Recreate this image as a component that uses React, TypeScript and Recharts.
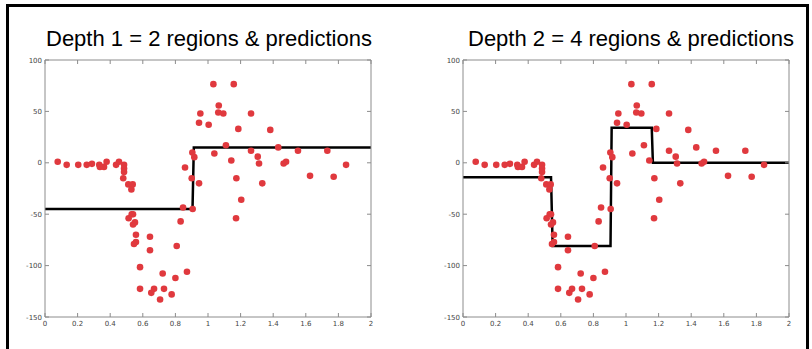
import { ComposedChart, Line, Scatter, XAxis, YAxis } from "recharts";

// training samples (same in both panels)
const sampleX = [
  0.078, 0.133, 0.204, 0.256, 0.288, 0.333, 0.337, 0.362, 0.378, 0.436,
  0.454, 0.485, 0.485, 0.485, 0.48, 0.511, 0.538, 0.53, 0.532, 0.54,
  0.513, 0.552, 0.54, 0.558, 0.558, 0.546, 0.644, 0.644, 0.583, 0.583,
  0.652, 0.669, 0.706, 0.73, 0.722, 0.777, 0.8, 0.808, 0.832, 0.847,
  0.871, 0.906, 0.859, 0.9, 0.904, 0.916, 0.945, 0.953, 0.945, 1.033,
  1.158, 1.066, 1.063, 1.094, 1.264, 1.004, 1.186, 1.382, 1.11, 1.039,
  1.264, 1.431, 1.552, 1.732, 1.143, 1.305, 1.313, 1.464, 1.479, 1.847,
  1.174, 1.626, 1.771, 1.333, 1.204, 1.172,
];
const sampleY = [
  1, -2, -2, -2, -1, -2, -4, -4, 1, -2,
  1, -2, -5.5, -9, -15, -21, -21, -26, -50, -50,
  -54, -58, -60, -70, -77, -79, -72, -85, -101.5, -122.6,
  -126.5, -122.6, -133, -122.6, -107.7, -128, -112, -81, -57, -43.5,
  -106, -45, -4.5, -15, 10, 5.5, -20, 48, 39, 76.5,
  76.5, 55.7, 49, 48, 48, 37, 33, 32, 17, 9,
  11.7, 15, 11.7, 11.7, 2.3, 6, -0.7, -0.7, 1, -2,
  -15, -12.7, -13.6, -20, -36, -54,
];

// tree predictions
const depth1X = [0, 0.905, 0.913, 2];
const depth1Y = [-45, -45, 15, 15];
const depth2X = [0, 0.54, 0.55, 0.905, 0.912, 1.158, 1.165, 2];
const depth2Y = [-14, -14, -81, -81, 34, 34, 0, 0];

const xTicks = [0, 0.2, 0.4, 0.6, 0.8, 1, 1.2, 1.4, 1.6, 1.8, 2];
const yTicks = [-150, -100, -50, 0, 50, 100];

const titles = [
  "Depth 1 = 2 regions & predictions",
  "Depth 2 = 4 regions & predictions",
];

const AXIS = "#8c8c8c";
const LABEL = "#444";
const RED = "#e0393e";
const tickFont = { fontSize: 7, fontFamily: "DejaVu Sans", fill: LABEL };

const points = sampleX.map((x, i) => ({ x, y: sampleY[i] }));

function BottomTick({ x, y, payload }: any) {
  return (
    <g>
      <line x1={x} x2={x} y1={y} y2={y - 4} stroke={AXIS} />
      <text x={x} y={y + 9} textAnchor="middle" {...tickFont}>
        {String(payload.value)}
      </text>
    </g>
  );
}

function LeftTick({ x, y, payload }: any) {
  return (
    <g>
      <line x1={x} x2={x + 4} y1={y} y2={y} stroke={AXIS} />
      <text x={x - 3} y={y + 2.5} textAnchor="end" {...tickFont}>
        {String(payload.value)}
      </text>
    </g>
  );
}

function TopTick({ x, y }: any) {
  return <line x1={x} x2={x} y1={y} y2={y + 4} stroke={AXIS} />;
}

function RightTick({ x, y }: any) {
  return <line x1={x} x2={x - 4} y1={y} y2={y} stroke={AXIS} />;
}

function Dot({ cx, cy }: any) {
  return <circle cx={cx} cy={cy} r={3.3} fill={RED} />;
}

function RegionChart({ stepX, stepY, width }: any) {
  const steps = stepX.map((x: number, i: number) => ({ x, y: stepY[i] }));
  return (
    <ComposedChart
      width={width}
      height={349}
      margin={{ top: 59, left: 44, right: width - 372, bottom: 31 }}
    >
      <XAxis
        dataKey="x"
        type="number"
        domain={[0, 2]}
        ticks={xTicks}
        allowDataOverflow
        height={1}
        tickSize={0}
        tickMargin={0}
        tickLine={false}
        tick={<BottomTick />}
        stroke={AXIS}
        interval={0}
      />
      <XAxis
        xAxisId="top"
        orientation="top"
        dataKey="x"
        type="number"
        domain={[0, 2]}
        ticks={xTicks}
        allowDataOverflow
        height={1}
        tickSize={0}
        tickMargin={0}
        tickLine={false}
        tick={<TopTick />}
        stroke={AXIS}
        interval={0}
      />
      <YAxis
        dataKey="y"
        type="number"
        domain={[-150, 100]}
        ticks={yTicks}
        allowDataOverflow
        width={1}
        tickSize={0}
        tickMargin={0}
        tickLine={false}
        tick={<LeftTick />}
        stroke={AXIS}
        interval={0}
      />
      <YAxis
        yAxisId="right"
        orientation="right"
        type="number"
        domain={[-150, 100]}
        ticks={yTicks}
        allowDataOverflow
        width={1}
        tickSize={0}
        tickMargin={0}
        tickLine={false}
        tick={<RightTick />}
        stroke={AXIS}
        interval={0}
      />
      <Scatter data={points} dataKey="y" shape={<Dot />} isAnimationActive={false} />
      <Line
        data={steps}
        dataKey="y"
        type="linear"
        stroke="#000"
        strokeWidth={2.5}
        dot={false}
        activeDot={false}
        isAnimationActive={false}
      />
    </ComposedChart>
  );
}

export default function App() {
  const titleStyle: any = {
    position: "absolute",
    top: 28,
    fontFamily: "'Liberation Sans', Arial, sans-serif",
    fontSize: 22,
    lineHeight: "22px",
    color: "#000",
    whiteSpace: "nowrap",
  };
  return (
    <div
      style={{
        position: "absolute",
        left: 0,
        top: 0,
        width: 812,
        height: 349,
        overflow: "hidden",
        background: "#fff",
      }}
    >
      <div
        style={{
          position: "absolute",
          left: 6,
          top: 4,
          width: 803,
          height: 360,
          border: "3px solid #000",
          borderBottom: "none",
          boxSizing: "border-box",
        }}
      />
      <div style={{ position: "absolute", left: 0, top: 0 }}>
        <RegionChart stepX={depth1X} stepY={depth1Y} width={400} />
      </div>
      <div style={{ position: "absolute", left: 418, top: 0 }}>
        <RegionChart stepX={depth2X} stepY={depth2Y} width={394} />
      </div>
      <div style={{ ...titleStyle, left: 46 }}>{titles[0]}</div>
      <div style={{ ...titleStyle, left: 468 }}>{titles[1]}</div>
    </div>
  );
}
